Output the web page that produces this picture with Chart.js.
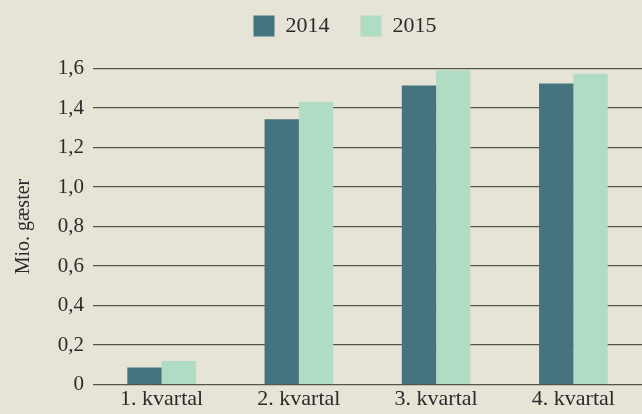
<!DOCTYPE html>
<html>
<head>
<meta charset="utf-8">
<script src="https://cdn.jsdelivr.net/npm/chart.js@4/dist/chart.umd.min.js"></script>
<style>
    html, body { margin: 0; padding: 0; background: #e6e3d7; }
    #wrap { width: 642px; height: 414px; position: relative; }
</style>
</head>
<body>
<div id="wrap"><canvas id="chart"></canvas></div>
<script>
// Data
const quarters = ['1. kvartal', '2. kvartal', '3. kvartal', '4. kvartal'];
const guests2014 = [0.086, 1.343, 1.514, 1.524];
const guests2015 = [0.12, 1.432, 1.59, 1.574];
const yTicks = [0, 0.2, 0.4, 0.6, 0.8, 1.0, 1.2, 1.4, 1.6];

const serif = '"Liberation Serif", "Times New Roman", "DejaVu Serif", serif';
const textColor = '#2b2b2b';

// legend hoogte en positie bijstellen
const legendTweak = {
    id: 'legendTweak',
    beforeInit(chart) {
        const origFit = chart.legend.fit;
        chart.legend.fit = function() {
            origFit.bind(chart.legend)();
            this.height = 84.5;
        };
    },
    afterLayout(chart) {
        chart.legend.left += 24;
        chart.legend.right += 24;
    }
};

const ctx = document.getElementById('chart').getContext('2d');
new Chart(ctx, {
    type: 'bar',
    data: {
        labels: quarters,
        datasets: [
            {
                label: '2014',
                data: guests2014,
                backgroundColor: '#45737e',
                borderWidth: 0
            },
            {
                label: '2015',
                data: guests2015,
                backgroundColor: '#afdcc3',
                borderWidth: 0
            }
        ]
    },
    options: {
        responsive: true,
        maintainAspectRatio: false,
        animation: false,
        layout: {
            padding: { top: -16, right: 0, bottom: 0, left: 0 }
        },
        datasets: {
            bar: {
                categoryPercentage: 0.5,
                barPercentage: 1.0
            }
        },
        plugins: {
            tooltip: { enabled: false },
            legend: {
                position: 'top',
                labels: {
                    boxWidth: 21,
                    boxHeight: 21,
                    padding: 31,
                    color: textColor,
                    font: { family: serif, size: 22 }
                }
            }
        },
        scales: {
            x: {
                grid: { display: false, drawTicks: false },
                border: { display: false },
                ticks: {
                    color: textColor,
                    padding: 1.5,
                    font: { family: serif, size: 22 }
                }
            },
            y: {
                min: 0,
                max: 1.6,
                afterBuildTicks: function(scale) {
                    scale.ticks = yTicks.map(v => ({ value: v }));
                },
                afterFit: function(scale) {
                    scale.width = 93;
                },
                grid: {
                    color: '#55554f',
                    lineWidth: 1.2,
                    drawTicks: false
                },
                border: { display: false },
                title: {
                    display: true,
                    text: 'Mio. gæster',
                    color: textColor,
                    padding: { top: 12, bottom: 0 },
                    font: { family: serif, size: 20 }
                },
                ticks: {
                    color: textColor,
                    padding: 9,
                    font: { family: serif, size: 21 },
                    callback: function(value) {
                        if (value === 0) return '0';
                        return value.toFixed(1).replace('.', ',');
                    }
                }
            }
        }
    },
    plugins: [legendTweak]
});
</script>
</body>
</html>
